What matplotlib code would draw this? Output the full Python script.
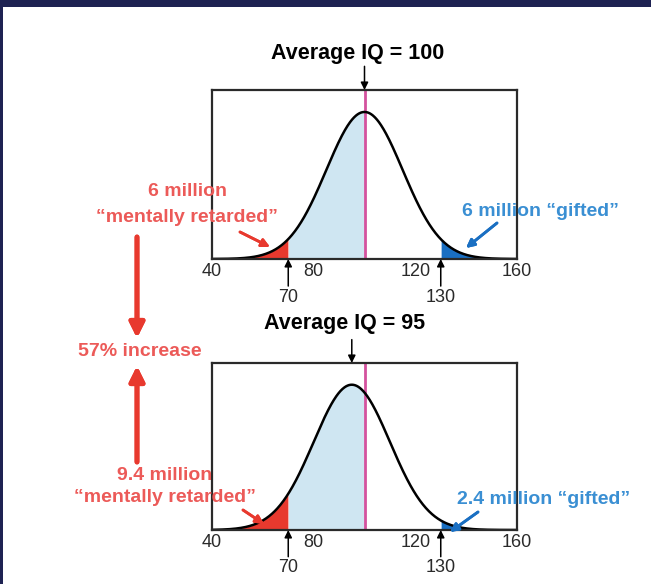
import numpy as np
import matplotlib
matplotlib.use("Agg")
import matplotlib.pyplot as plt
from matplotlib.patches import Rectangle

plt.rcParams["font.family"] = ["Liberation Sans", "DejaVu Sans"]

# data
means = [100, 95]
sd = 15
low_cut, high_cut = 70, 130
xticks = [40, 80, 120, 160]
titles = ["Average IQ = 100", "Average IQ = 95"]
low_labels = [["6 million", "\u201cmentally retarded\u201d"],
              ["9.4 million", "\u201cmentally retarded\u201d"]]
high_labels = ["6 million \u201cgifted\u201d", "2.4 million \u201cgifted\u201d"]
change_label = "57% increase"

RED = "#e8392e"
RED_TXT = "#ec5a58"
BLUE = "#1a6fc2"
BLUE_TXT = "#3a8fd3"
LIGHT = "#cfe6f2"
MAGENTA = "#d4529e"
NAVY = "#1e2252"
INK = "#2a2a2a"

W, H = 651, 584
fig = plt.figure(figsize=(W / 100, H / 100), dpi=100)


def fx(x):
    return x / W


def fy(y):
    return 1 - y / H


# panel boxes in pixels: left, top, right, bottom
boxes = [(212, 90, 517, 259), (212, 363, 517, 530)]

x = np.linspace(40, 160, 600)
peak = 1 / (sd * np.sqrt(2 * np.pi))

for i, (mu, (l, t, r, b)) in enumerate(zip(means, boxes)):
    ax = fig.add_axes([fx(l), fy(b), fx(r - l), (b - t) / H])
    y = np.exp(-0.5 * ((x - mu) / sd) ** 2) / (sd * np.sqrt(2 * np.pi))
    ax.fill_between(x, 0, y, where=(x >= low_cut) & (x <= 100), color=LIGHT, lw=0)
    ax.fill_between(x, 0, y, where=x <= low_cut, color=RED, lw=0)
    ax.fill_between(x, 0, y, where=x >= high_cut, color=BLUE, lw=0)
    ax.axvline(100, color=MAGENTA, lw=2)
    ax.plot(x, y, color="black", lw=1.8)
    ax.set_xlim(40, 160)
    ax.set_ylim(0, peak / 0.87)
    ax.set_yticks([])
    ax.set_xticks(xticks)
    ax.tick_params(axis="x", length=0, pad=3, labelsize=13, labelcolor=INK)
    for s in ax.spines.values():
        s.set_linewidth(1.6)
        s.set_color(INK)

    # cutoff arrows and labels below the box
    for c in (low_cut, high_cut):
        ax.annotate("", xy=(c, 0), xycoords=("data", "axes fraction"),
                    xytext=(c, -0.16), textcoords=("data", "axes fraction"),
                    arrowprops=dict(arrowstyle="-|>", color="black", lw=1.1,
                                    mutation_scale=11, shrinkA=0, shrinkB=0),
                    annotation_clip=False)
        ax.text(c, -0.225, str(c), transform=ax.get_xaxis_transform(),
                ha="center", va="center", fontsize=13, color=INK)

    # mean arrow
    ax.annotate("", xy=(mu, 1.0), xycoords=("data", "axes fraction"),
                xytext=(mu, 1.14), textcoords=("data", "axes fraction"),
                arrowprops=dict(arrowstyle="-|>", color="black", lw=1.1,
                                mutation_scale=11, shrinkA=0, shrinkB=0),
                annotation_clip=False)

fig.text(fx(358), fy(53), titles[0], ha="center", va="center",
         fontsize=15.5, fontweight="bold")
fig.text(fx(345), fy(323), titles[1], ha="center", va="center",
         fontsize=15.5, fontweight="bold")

# low-tail labels
for (cx, y1, y2), lines in zip([(187, 192, 217), (165, 475, 498)], low_labels):
    fig.text(fx(cx), fy(y1), lines[0], ha="center", va="center", fontsize=14,
             fontweight="bold", color=RED_TXT, zorder=10)
    fig.text(fx(cx), fy(y2), lines[1], ha="center", va="center", fontsize=14,
             fontweight="bold", color=RED_TXT, zorder=10)

# high-tail labels
for (cx, cy), lab in zip([(540, 212), (544, 500)], high_labels):
    fig.text(fx(cx), fy(cy), lab, ha="center", va="center", fontsize=14,
             fontweight="bold", color=BLUE_TXT, zorder=10)

# pointer arrows
small = [((240, 232), (270, 247), RED), ((243, 510), (264, 524), RED),
         ((497, 223), (466, 248), BLUE), ((478, 512), (450, 532), BLUE)]
for (x0, y0), (x1, y1), col in small:
    fig.add_artist(plt.annotate("", xy=(fx(x1), fy(y1)), xycoords="figure fraction",
                                xytext=(fx(x0), fy(y0)), textcoords="figure fraction",
                                arrowprops=dict(arrowstyle="-|>", color=col, lw=2,
                                                mutation_scale=12, shrinkA=0, shrinkB=0)))

# big red arrows around the change label
for y0, y1 in [(237, 338), (462, 366)]:
    fig.add_artist(plt.annotate("", xy=(fx(137), fy(y1)), xycoords="figure fraction",
                                xytext=(fx(137), fy(y0)), textcoords="figure fraction",
                                arrowprops=dict(arrowstyle="-|>", color=RED, lw=3.5,
                                                mutation_scale=22, shrinkA=0, shrinkB=0)))
fig.text(fx(140), fy(352), change_label, ha="center", va="center", fontsize=14,
         fontweight="bold", color=RED_TXT)

# dark frame
fig.add_artist(Rectangle((0, fy(7)), 1, 7 / H, transform=fig.transFigure,
                         color=NAVY, lw=0))
fig.add_artist(Rectangle((0, 0), 3 / W, 1, transform=fig.transFigure,
                         color=NAVY, lw=0))

fig.savefig("out.png", dpi=100)
